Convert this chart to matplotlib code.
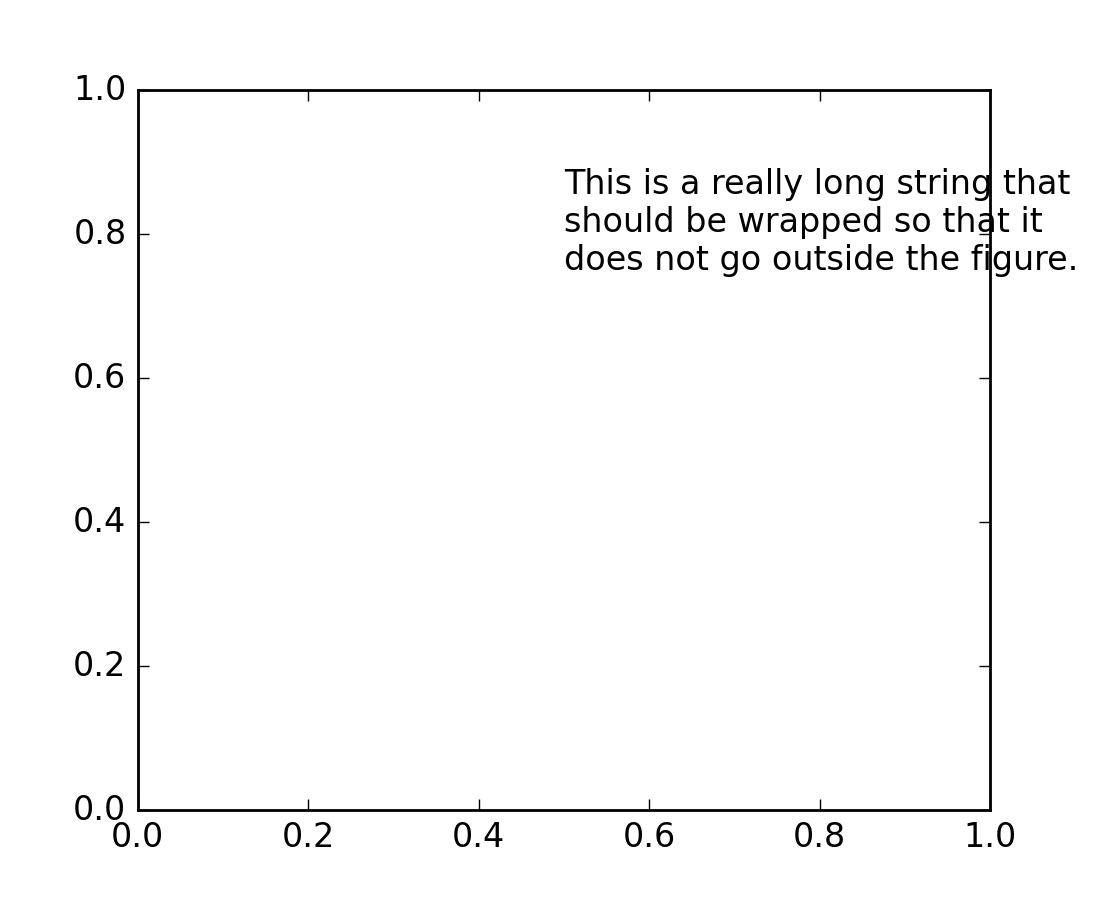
import matplotlib
matplotlib.use("Agg")
import matplotlib.pyplot as plt

plt.style.use("classic")

# text placed inside the axes, wrapped at the figure edge
long_text = ("This is a really long string that should be wrapped so that "
             "it does not go outside the figure.")
text_pos = [0.5, 0.757]

fig = plt.figure(figsize=(5.5, 4.5), dpi=200)
ax = fig.add_subplot(111)
ax.text(text_pos[0], text_pos[1], long_text, wrap=True)

fig.savefig("out.png", dpi=200)
